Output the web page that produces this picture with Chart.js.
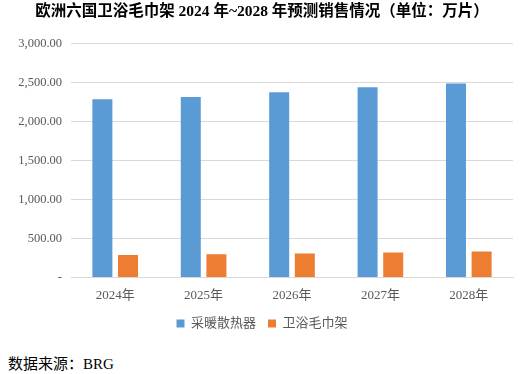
<!DOCTYPE html>
<html>
<head>
<meta charset="utf-8">
<script src="https://cdn.jsdelivr.net/npm/chart.js@4"></script>
<style>
  html, body { margin: 0; padding: 0; background: #fff; }
  #wrap { position: relative; width: 524px; height: 340px; }
  #source {
    position: absolute; left: 8px; top: 352px;
    font: 15px "Liberation Serif", "Noto Sans CJK SC", serif; color: #000;
  }
</style>
</head>
<body>
<div id="wrap"><canvas id="chart"></canvas></div>
<div id="source">数据来源：BRG</div>
<script>
// values (万片)
const years = ['2024年', '2025年', '2026年', '2027年', '2028年'];
const radiators = [2285, 2315, 2375, 2440, 2487];
const towelRacks = [289, 297, 306, 319, 332];
const seriesNames = ['采暖散热器', '卫浴毛巾架'];

const FONT = '"Liberation Serif", "Noto Sans CJK SC", serif';

function money(v) {
    /* accounting style: zero shows as a dash */
    if (v === 0) return '-';
    return v.toLocaleString('en-US', { minimumFractionDigits: 2, maximumFractionDigits: 2 });
}

new Chart(document.getElementById('chart'), {
    type: 'bar',
    data: {
        labels: years,
        datasets: [
            { label: seriesNames[0], data: radiators, backgroundColor: '#5B9BD5' },
            { label: seriesNames[1], data: towelRacks, backgroundColor: '#ED7D31' }
        ]
    },
    options: {
        responsive: true,
        maintainAspectRatio: false,
        animation: false,
        datasets: { bar: { categoryPercentage: 0.58, barPercentage: 0.78 } },
        layout: { padding: { left: 11, right: 11, top: 2, bottom: 0 } },
        plugins: {
            title: {
                display: true,
                text: '欧洲六国卫浴毛巾架 2024 年~2028 年预测销售情况（单位：万片）',
                color: '#000',
                font: { family: FONT, size: 15.5, weight: 'bold' },
                padding: { top: 1, bottom: 22 }
            },
            legend: {
                position: 'bottom',
                labels: {
                    color: '#595959',
                    font: { family: FONT, size: 13 },
                    boxWidth: 8, boxHeight: 8,
                    padding: 12
                }
            },
            tooltip: { enabled: false }
        },
        scales: {
            x: {
                grid: { display: false },
                border: { color: '#d9d9d9' },
                ticks: { color: '#595959', font: { family: FONT, size: 13 }, padding: 2 }
            },
            y: {
                min: 0, max: 3000,
                afterFit: s => { s.width = 60; },
                grid: { color: '#d9d9d9', drawTicks: false },
                border: { display: false },
                ticks: {
                    stepSize: 500,
                    color: '#595959',
                    font: { family: FONT, size: 12.5 },
                    padding: 9,
                    callback: v => money(v)
                }
            }
        }
    }
});
</script>
</body>
</html>
